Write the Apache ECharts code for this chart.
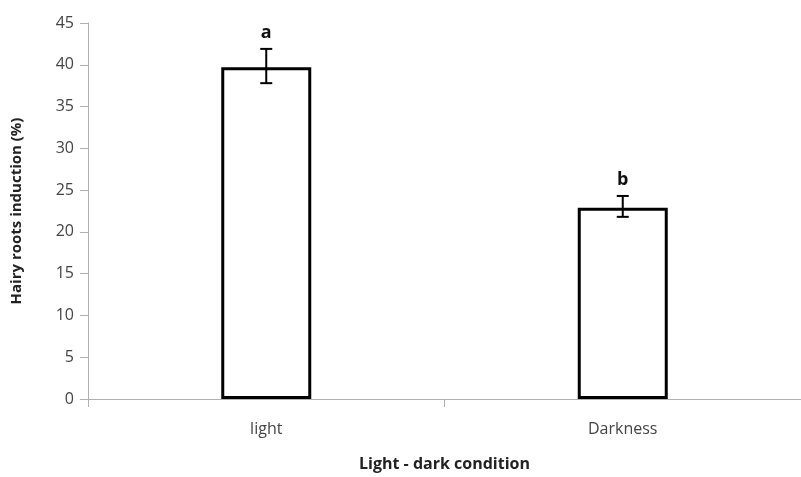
<!DOCTYPE html>
<html>
<head>
<meta charset="utf-8">
<script src="https://cdn.jsdelivr.net/npm/echarts@6/dist/echarts.min.js"></script>
<style>
  html, body { margin: 0; padding: 0; background: #fff; }
  #chart { width: 801px; height: 477px; }
</style>
</head>
<body>
<div id="chart"></div>
<script>
// data
const categories = ['light', 'Darkness'];
const induction = [39.7, 22.9];
const errLow = [37.8, 21.8];
const errHigh = [41.9, 24.3];
const letters = ['a', 'b'];
const yTicks = [0, 45, 5]; // min, max, interval

const chart = echarts.init(document.getElementById('chart'));

const errorData = categories.map((c, i) => [i, errLow[i], errHigh[i], letters[i]]);

const option = {
  animation: false,
  textStyle: { fontFamily: 'Open Sans' },
  grid: { left: 88, right: -10, top: 23, bottom: 75 },
  xAxis: {
    type: 'category',
    data: categories,
    name: 'Light - dark condition',
    nameLocation: 'middle',
    nameGap: 57,
    nameTextStyle: { fontSize: 16, fontWeight: 'bold', color: '#222' },
    axisLine: { lineStyle: { color: '#b0b0b0', width: 1 } },
    axisTick: { show: true, length: 8, lineStyle: { color: '#b0b0b0' } },
    axisLabel: { fontSize: 16, color: '#444', margin: 22 }
  },
  yAxis: {
    type: 'value',
    min: yTicks[0],
    max: yTicks[1],
    interval: yTicks[2],
    name: 'Hairy roots induction (%)',
    nameLocation: 'middle',
    nameGap: 64,
    nameTextStyle: { fontSize: 15, fontWeight: 'bold', color: '#222' },
    axisLine: { show: true, lineStyle: { color: '#b0b0b0', width: 1 } },
    axisTick: { show: true, length: 8, lineStyle: { color: '#b0b0b0' } },
    axisLabel: { fontSize: 16, color: '#444', margin: 14 },
    splitLine: { show: false }
  },
  series: [
    {
      type: 'bar',
      data: induction,
      barWidth: 90,
      itemStyle: { color: '#fff', borderColor: '#000', borderWidth: 3 }
    },
    {
      type: 'custom',
      data: errorData,
      z: 10,
      renderItem: (params, api) => {
        const x = api.coord([api.value(0), 0])[0];
        const lo = api.coord([api.value(0), api.value(1)])[1];
        const hi = api.coord([api.value(0), api.value(2)])[1];
        const hw = 6;
        const st = { stroke: '#000', lineWidth: 2 };
        return {
          type: 'group',
          children: [
            { type: 'line', shape: { x1: x, y1: lo, x2: x, y2: hi }, style: st },
            { type: 'line', shape: { x1: x - hw, y1: lo, x2: x + hw, y2: lo }, style: st },
            { type: 'line', shape: { x1: x - hw, y1: hi, x2: x + hw, y2: hi }, style: st },
            {
              type: 'text',
              style: {
                text: api.value(3),
                x: x, y: hi - 7,
                align: 'center', verticalAlign: 'bottom',
                font: 'bold 18px "Open Sans"', fill: '#111'
              }
            }
          ]
        };
      }
    }
  ]
};

chart.setOption(option);
</script>
</body>
</html>
